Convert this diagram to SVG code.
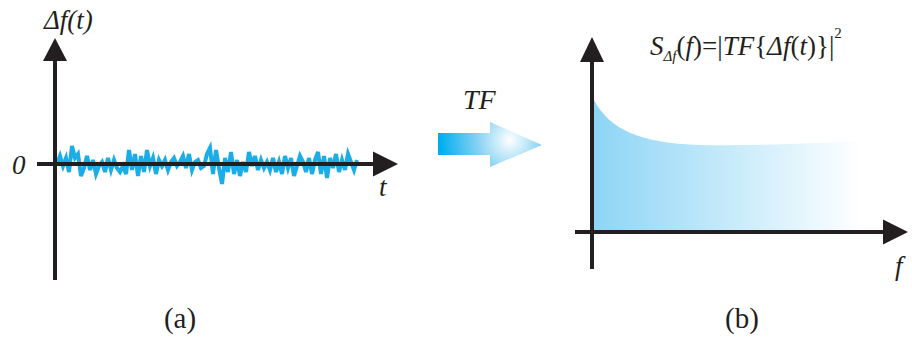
<svg xmlns="http://www.w3.org/2000/svg" width="912" height="343" viewBox="0 0 912 343">
<defs>
<linearGradient id="fillg" x1="594" y1="0" x2="862" y2="0" gradientUnits="userSpaceOnUse">
<stop offset="0" stop-color="#8dd5f5"/>
<stop offset="1" stop-color="#ffffff"/>
</linearGradient>
<radialGradient id="arrg" cx="510" cy="140" r="70" gradientUnits="userSpaceOnUse">
<stop offset="0" stop-color="#ffffff"/>
<stop offset="0.45" stop-color="#8ad3f3"/>
<stop offset="1" stop-color="#00aeef"/>
</radialGradient>
</defs>
<g id="panel-a">
<polyline points="57,164 60,156 63,166 66,158 69,172 72,146 75,158 78,154 81,176 84,168 87,156 90,170 93,160 96,174 99,166 102,162 105,172 108,158 111,170 114,160 117,168 120,172 123,166 126,174 129,150 132,170 135,154 138,176 141,156 144,172 147,150 150,166 153,158 156,174 159,160 162,166 165,160 168,170 171,162 174,158 177,166 180,162 183,156 186,168 189,154 192,170 195,162 198,160 201,168 204,166 207,154 210,148 213,174 216,150 219,168 222,184 225,158 228,172 231,152 234,174 237,160 240,176 243,162 246,172 249,152 252,166 255,156 258,170 261,160 264,168 267,162 270,170 273,158 276,172 279,162 282,174 285,156 288,168 291,158 294,176 297,166 300,156 303,162 306,172 309,158 312,174 315,160 318,152 321,174 324,156 327,178 330,158 333,168 336,154 339,172 342,160 345,170 348,154 351,162 354,170 357,160" fill="none" stroke="#1aade8" stroke-width="4" stroke-linejoin="miter"/>
<line x1="55" y1="58" x2="55" y2="280" stroke="#231f20" stroke-width="4"/>
<polygon points="55,38 43,61 67,61" fill="#231f20"/>
<line x1="37" y1="164" x2="376" y2="164" stroke="#231f20" stroke-width="4"/>
<polygon points="398,164 373,151.5 373,176.5" fill="#231f20"/>
<text x="44" y="29" font-size="27" font-style="italic" font-family="'Liberation Serif'" fill="#231f20">Δf(t)</text>
<text x="12" y="174" font-size="27" font-style="italic" font-family="'Liberation Serif'" fill="#231f20">0</text>
<text x="379" y="196" font-size="27" font-style="italic" font-family="'Liberation Serif'" fill="#231f20">t</text>
<text x="180" y="328" font-size="29" text-anchor="middle" font-family="'Liberation Serif'" fill="#231f20">(a)</text>
</g>
<g id="tf-arrow">
<polygon points="438,133 490,133 490,122 542,145 490,167 490,155 438,155" fill="url(#arrg)"/>
<text x="463" y="109" font-size="28" font-style="italic" font-family="'Liberation Serif'" fill="#231f20">TF</text>
</g>
<g id="panel-b">
<path d="M594,100 C610,130 640,143 700,145 C760,146 820,143 862,141 L862,231 L594,231 Z" fill="url(#fillg)"/>
<line x1="592" y1="58" x2="592" y2="269" stroke="#231f20" stroke-width="4"/>
<polygon points="592,37 580,62 604,62" fill="#231f20"/>
<line x1="575" y1="232" x2="885" y2="232" stroke="#231f20" stroke-width="4"/>
<polygon points="908,232 883,219.5 883,244.5" fill="#231f20"/>
<text x="895" y="275" font-size="27" font-style="italic" font-family="'Liberation Serif'" fill="#231f20">f</text>
<text x="650" y="55" font-size="27" font-family="'Liberation Serif'" fill="#231f20"><tspan font-style="italic">S</tspan><tspan font-style="italic" font-size="15" dy="6">Δf</tspan><tspan dy="-6">(</tspan><tspan font-style="italic">f</tspan><tspan>)=|</tspan><tspan font-style="italic">TF</tspan><tspan>{</tspan><tspan font-style="italic">Δf</tspan><tspan>(</tspan><tspan font-style="italic">t</tspan><tspan>)}|</tspan><tspan font-size="15" dy="-17">2</tspan></text>
<text x="742" y="328" font-size="29" text-anchor="middle" font-family="'Liberation Serif'" fill="#231f20">(b)</text>
</g>
</svg>
